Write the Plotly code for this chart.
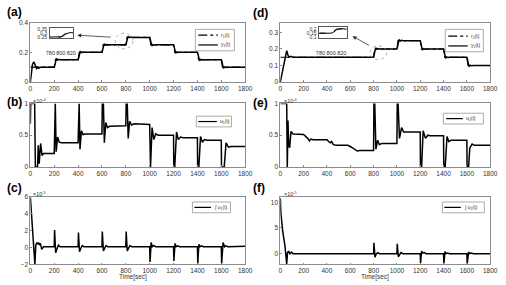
import plotly.graph_objects as go

W, H = 506, 285

# ---------------- data ----------------
time_ticks = [0, 200, 400, 600, 800, 1000, 1200, 1400, 1600, 1800]

r1_t = [0, 200, 210, 400, 410, 600, 610, 800, 810, 1000, 1010, 1200, 1210, 1400, 1410, 1600, 1610, 1800]
r1_v = [0.1, 0.1, 0.15, 0.15, 0.2, 0.2, 0.25, 0.25, 0.3, 0.3, 0.25, 0.25, 0.2, 0.2, 0.15, 0.15, 0.1, 0.1]

y1_t = [0, 8, 18, 30, 42, 52, 62, 72, 84, 100,
        200, 204, 210, 218, 228, 240, 255,
        400, 404, 410, 418, 428, 440, 455,
        600, 604, 610, 618, 628, 640, 655,
        800, 804, 810, 818, 828, 840, 855,
        1000, 1004, 1010, 1018, 1028, 1040, 1055,
        1200, 1204, 1210, 1218, 1228, 1240, 1255,
        1400, 1404, 1410, 1418, 1428, 1440, 1455,
        1600, 1604, 1610, 1618, 1628, 1640, 1655, 1800]
y1_v = [0, 0.07, 0.12, 0.135, 0.11, 0.09, 0.1, 0.092, 0.1, 0.1,
        0.1, 0.11, 0.14, 0.158, 0.148, 0.152, 0.15,
        0.15, 0.16, 0.19, 0.207, 0.198, 0.202, 0.2,
        0.2, 0.21, 0.24, 0.257, 0.248, 0.252, 0.25,
        0.25, 0.26, 0.29, 0.307, 0.298, 0.302, 0.3,
        0.3, 0.29, 0.26, 0.243, 0.252, 0.248, 0.25,
        0.25, 0.24, 0.21, 0.193, 0.202, 0.198, 0.2,
        0.2, 0.19, 0.16, 0.143, 0.152, 0.148, 0.15,
        0.15, 0.14, 0.11, 0.093, 0.102, 0.098, 0.1, 0.1]

r2_t = [0, 800, 810, 1000, 1010, 1200, 1210, 1400, 1410, 1600, 1610, 1800]
r2_v = [0.15, 0.15, 0.2, 0.2, 0.25, 0.25, 0.2, 0.2, 0.15, 0.15, 0.1, 0.1]

y2_t = [0, 15, 30, 45, 55, 65, 75, 90, 110,
        800, 804, 810, 818, 828, 840, 855,
        1000, 1004, 1010, 1018, 1028, 1040, 1055,
        1200, 1204, 1210, 1218, 1228, 1240, 1255,
        1400, 1404, 1410, 1418, 1428, 1440, 1455,
        1600, 1604, 1610, 1618, 1628, 1640, 1655, 1800]
y2_v = [0, 0.05, 0.11, 0.17, 0.19, 0.165, 0.15, 0.155, 0.15,
        0.15, 0.16, 0.19, 0.207, 0.198, 0.202, 0.2,
        0.2, 0.21, 0.24, 0.257, 0.248, 0.252, 0.25,
        0.25, 0.24, 0.21, 0.193, 0.202, 0.198, 0.2,
        0.2, 0.19, 0.16, 0.143, 0.152, 0.148, 0.15,
        0.15, 0.14, 0.11, 0.093, 0.102, 0.098, 0.1, 0.1]

# u1, u2 in units of 1e-4
u1_t = [0, 3, 36, 42, 60, 66, 74, 86, 98, 110, 200,
        203, 209, 216, 228, 242, 260, 400,
        403, 409, 416, 428, 442, 460, 600,
        603, 612, 620, 632, 646, 665, 800,
        803, 812, 820, 832, 848, 868, 1000,
        1002, 1007, 1020, 1035, 1050, 1070, 1200,
        1202, 1210, 1225, 1240, 1258, 1280, 1400,
        1402, 1412, 1426, 1442, 1460, 1480, 1600,
        1602, 1625, 1640, 1660, 1680, 1800]
u1_v = [0.68, 1, 1, 0, 0, 0.34, 0.05, 0.37, 0.18, 0.21, 0.21,
        1, 1, 0.24, 0.47, 0.39, 0.38, 0.38,
        1, 1, 0.28, 0.57, 0.51, 0.52, 0.52,
        1, 1, 0.38, 0.70, 0.62, 0.64, 0.65,
        1, 1, 0.45, 0.72, 0.66, 0.68, 0.67,
        0, 0, 0.62, 0.43, 0.52, 0.5, 0.5,
        0, 0, 0.55, 0.43, 0.47, 0.46, 0.46,
        0, 0, 0.48, 0.39, 0.43, 0.42, 0.42,
        0, 0, 0.38, 0.31, 0.32, 0.32]

u2_t = [0, 55, 60, 66, 72, 80, 92, 110, 200, 215, 235, 250, 262, 280, 400, 415, 428, 440,
        455, 480, 580, 610, 640, 660, 680, 800,
        803, 810, 820, 835, 850, 870, 1000,
        1003, 1010, 1022, 1040, 1058, 1080, 1200,
        1202, 1212, 1225, 1245, 1265, 1285, 1400,
        1402, 1414, 1430, 1445, 1462, 1480, 1600,
        1602, 1615, 1625, 1645, 1665, 1800]
u2_v = [1, 1, 0, 0.73, 0.35, 0.3, 0.56, 0.52, 0.51, 0.49, 0.45, 0.41, 0.44, 0.43, 0.43, 0.40, 0.38, 0.40,
        0.35, 0.34, 0.34, 0.31, 0.27, 0.25, 0.26, 0.26,
        1, 1, 0.28, 0.42, 0.35, 0.37, 0.37,
        1, 1, 0.45, 0.62, 0.55, 0.55, 0.55,
        0, 0, 0.57, 0.45, 0.50, 0.49, 0.49,
        0, 0, 0.48, 0.40, 0.42, 0.42, 0.42,
        0, 0, 0.30, 0.36, 0.34, 0.34]

# integral terms in units of 1e-5
iu1_t = [0, 10, 25, 38, 45, 52, 60, 68, 76, 84, 95, 110, 200,
         203, 212, 222, 235, 250, 400,
         403, 412, 422, 435, 450, 600,
         603, 612, 622, 635, 650, 800,
         803, 812, 822, 835, 850, 1000,
         1003, 1012, 1022, 1035, 1050, 1200,
         1203, 1212, 1222, 1235, 1250, 1400,
         1403, 1412, 1422, 1435, 1450, 1600,
         1603, 1615, 1628, 1640, 1655, 1800]
iu1_v = [6.0, 3.5, 0.5, -2.0, 0.2, 0.6, 0.4, 0.6, 0.3, 0.5, -0.2, 0.1, 0.1,
         2.1, -0.6, -0.1, 0.3, 0.1, 0.1,
         1.8, -0.5, -0.1, 0.25, 0.1, 0.1,
         1.9, -0.4, -0.1, 0.25, 0.1, 0.12,
         1.9, -0.4, -0.1, 0.25, 0.1, 0.1,
         -1.7, 0.6, 0.1, 0.25, 0.1, 0.1,
         -1.6, 0.5, 0.1, 0.2, 0.1, 0.1,
         -1.9, 0.4, 0.1, 0.2, 0.1, 0.1,
         -1.9, 0.6, 0.1, 0.2, 0.1, 0.15]

iu2_t = [0, 5, 20, 40, 55, 62, 72, 82, 95, 110, 800,
         803, 812, 822, 835, 850, 1000,
         1003, 1012, 1022, 1035, 1050, 1200,
         1203, 1212, 1222, 1235, 1250, 1400,
         1403, 1412, 1422, 1435, 1450, 1600,
         1603, 1615, 1628, 1640, 1655, 1800]
iu2_v = [10.8, 8.0, 4.5, 1.5, -2.0, 0.2, 0.5, -0.1, 0.3, 0.0, 0.0,
         2.1, -0.7, -0.1, 0.2, 0.0, 0.0,
         1.9, -0.6, -0.1, 0.2, 0.0, 0.0,
         -1.8, 0.5, 0.1, 0.2, 0.0, 0.0,
         -1.9, 0.4, 0.0, 0.1, 0.0, 0.0,
         -1.9, 0.3, 0.0, 0.1, 0.0, 0.0]

panel_labels = ["(a)", "(d)", "(b)", "(e)", "(c)", "(f)"]
legend_labels = [["r<sub>1</sub>(t)", "y<sub>1</sub>(t)"],
                 ["r<sub>2</sub>(t)", "y<sub>2</sub>(t)"],
                 ["u<sub>1</sub>(t)"], ["u<sub>2</sub>(t)"],
                 ["∫ u<sub>1</sub>(t)"], ["∫ u<sub>2</sub>(t)"]]
inset_x_ticks = [780, 800, 820]
inset_a_y_ticks = [0.25, 0.3, 0.35]
inset_d_y_ticks = [0.1, 0.15, 0.2]

# ---------------- layout helpers ----------------
def px_x(p):
    return p / W

def px_y(p):
    return 1 - p / H

FONT = "Liberation Sans, Arial, sans-serif"
AX_COL = "#8c8c8c"
TXT = "#333333"

xdomL = [px_x(27), px_x(247)]
xdomR = [px_x(283), px_x(498)]
row1 = [px_y(80), px_y(19)]
row2 = [px_y(167), px_y(102)]
row3 = [px_y(267), px_y(198)]

fig = go.Figure()
LW = 1.5

def add(x, y, name, xa, ya, dash="solid", width=LW):
    fig.add_trace(go.Scatter(x=x, y=y, name=name, mode="lines",
                             line=dict(color="black", width=width, dash=dash),
                             xaxis=xa, yaxis=ya, showlegend=False, hoverinfo="skip"))

add(r1_t, r1_v, "r1", "x", "y", dash="dashdot", width=1.2)
add(y1_t, y1_v, "y1", "x", "y")
add(r2_t, r2_v, "r2", "x2", "y2", dash="dashdot", width=1.2)
add(y2_t, y2_v, "y2", "x2", "y2")
add(u1_t, u1_v, "u1", "x3", "y3")
add(u2_t, u2_v, "u2", "x4", "y4")
add(iu1_t, iu1_v, "iu1", "x5", "y5")
add(iu2_t, iu2_v, "iu2", "x6", "y6")
# insets
add(r1_t, r1_v, "r1 inset", "x7", "y7", dash="dash", width=0.9)
add(y1_t, y1_v, "y1 inset", "x7", "y7", width=1.0)
add(r2_t, r2_v, "r2 inset", "x8", "y8", dash="dash", width=0.9)
add(y2_t, y2_v, "y2 inset", "x8", "y8", width=1.0)

def xaxis(dom, anchor):
    return dict(domain=dom, anchor=anchor, range=[0, 1800], tickvals=time_ticks,
                showline=True, mirror=True, linecolor=AX_COL, linewidth=0.8,
                ticks="inside", ticklen=2, tickcolor=AX_COL, showgrid=False,
                zeroline=False, tickangle=0, tickfont=dict(size=6.5, color=TXT, family=FONT))

def yaxis(dom, anchor, rng, tv, tt=None):
    d = dict(domain=dom, anchor=anchor, range=rng, tickvals=tv,
             showline=True, mirror=True, linecolor=AX_COL, linewidth=0.8,
             ticks="inside", ticklen=2, tickcolor=AX_COL, showgrid=False,
             zeroline=False, tickfont=dict(size=6.5, color=TXT, family=FONT))
    if tt is not None:
        d["ticktext"] = tt
    return d

lay = dict(
    width=W, height=H, margin=dict(l=0, r=0, t=0, b=0),
    paper_bgcolor="white", plot_bgcolor="white", showlegend=False,
    font=dict(family=FONT, color=TXT),
    xaxis=xaxis(xdomL, "y"), yaxis=yaxis(row1, "x", [0, 0.4], [0, 0.2, 0.4], ["0", "0.2", "0.4"]),
    xaxis2=xaxis(xdomR, "y2"), yaxis2=yaxis(row1, "x2", [0, 0.36], [0, 0.1, 0.2, 0.3]),
    xaxis3=xaxis(xdomL, "y3"), yaxis3=yaxis(row2, "x3", [0, 1], [0, 0.5, 1]),
    xaxis4=xaxis(xdomR, "y4"), yaxis4=yaxis(row2, "x4", [0, 1], [0, 0.5, 1]),
    xaxis5=xaxis(xdomL, "y5"), yaxis5=yaxis(row3, "x5", [-2, 6], [-2, 0, 2, 4, 6]),
    xaxis6=xaxis(xdomR, "y6"), yaxis6=yaxis(row3, "x6", [-2.1, 11], [0, 5, 10]),
)

def inset_axes(xd, yd, xr, yr, ytv, anchor_x, anchor_y):
    xa = dict(domain=xd, anchor=anchor_y, range=xr, tickvals=inset_x_ticks,
              showline=True, mirror=True, linecolor="#555", linewidth=0.7,
              ticks="", showgrid=False, zeroline=False, ticklabelstandoff=9,
              tickangle=0, tickfont=dict(size=5.5, color=TXT, family=FONT))
    ya = dict(domain=yd, anchor=anchor_x, range=yr, tickvals=ytv,
              showline=True, mirror=True, linecolor="#555", linewidth=0.7,
              ticks="", showgrid=False, zeroline=False, ticklabelstandoff=1,
              tickfont=dict(size=5, color=TXT, family=FONT))
    return xa, ya

lay["xaxis7"], lay["yaxis7"] = inset_axes([px_x(47), px_x(71)], [px_y(35), px_y(25)],
                                          [779, 824], [0.235, 0.36], inset_a_y_ticks, "x7", "y7")
lay["xaxis8"], lay["yaxis8"] = inset_axes([px_x(323), px_x(351)], [px_y(35), px_y(24)],
                                          [778, 829], [0.09, 0.22], inset_d_y_ticks, "x8", "y8")

ann = []
shapes = []

label_pos = [(1, 8), (253, 9), (1, 100), (253, 101), (1, 189), (253, 189)]
for lab, (lx, ly) in zip(panel_labels, label_pos):
    ann.append(dict(text="<b>%s</b>" % lab, x=px_x(lx), y=px_y(ly), xref="paper", yref="paper",
                    xanchor="left", yanchor="middle", showarrow=False,
                    font=dict(size=12, family=FONT, color="black")))
for txt, lx, ly in [("×10<sup>-4</sup>", 28, 99), ("×10<sup>-4</sup>", 285, 99),
                    ("×10<sup>-5</sup>", 28, 195), ("×10<sup>-5</sup>", 285, 195)]:
    ann.append(dict(text=txt, x=px_x(lx), y=px_y(ly), xref="paper", yref="paper",
                    xanchor="left", yanchor="middle", showarrow=False,
                    font=dict(size=5.5, family=FONT, color=TXT)))
for lx in [132, 380]:
    ann.append(dict(text="Time[sec]", x=px_x(lx), y=px_y(280), xref="paper", yref="paper",
                    xanchor="center", yanchor="middle", showarrow=False,
                    font=dict(size=6.5, family=FONT, color=TXT)))
# zoom arrows
for hx, hy, axp, ayp in [(75, 32, 35, 2), (357, 33, 18, 10)]:
    ann.append(dict(text="", x=px_x(hx), y=px_y(hy), xref="paper", yref="paper",
                    ax=axp, ay=ayp, showarrow=True, arrowhead=2, arrowsize=1,
                    arrowwidth=0.8, arrowcolor="#333"))

# dotted zoom circles
for x0, x1, y0, y1 in [(114, 132, 30, 46), (375, 392, 43, 57)]:
    shapes.append(dict(type="circle", xref="paper", yref="paper",
                       x0=px_x(x0), x1=px_x(x1), y0=px_y(y1), y1=px_y(y0),
                       line=dict(color="#999", width=0.8, dash="dot")))

# legend boxes (box: left, right, top, bottom; sample line x0, x1; row y's)
legend_geom = [
    (196, 236, 26, 48, 199, 219, [32, 42]),
    (452, 491, 26, 49, 455, 475, [33, 43]),
    (197, 233, 115, 126, 199, 218, [120.5]),
    (450, 491, 112, 123, 453, 470, [117.5]),
    (193, 232, 203, 214, 195, 212, [208.5]),
    (449, 492, 203, 214, 451, 468, [208.5]),
]
legend_dash = [["dashdot", "solid"], ["dashdot", "solid"], ["solid"], ["solid"], ["solid"], ["solid"]]
for labels, dashes, (bl, br, bt, bb, lx0, lx1, rows) in zip(legend_labels, legend_dash, legend_geom):
    shapes.append(dict(type="rect", xref="paper", yref="paper",
                       x0=px_x(bl), x1=px_x(br), y0=px_y(bb), y1=px_y(bt),
                       line=dict(color="#888", width=0.7), fillcolor="white", layer="above"))
    for lab, dsh, ry in zip(labels, dashes, rows):
        shapes.append(dict(type="line", xref="paper", yref="paper",
                           x0=px_x(lx0), x1=px_x(lx1), y0=px_y(ry), y1=px_y(ry),
                           line=dict(color="black", width=1.2, dash=dsh), layer="above"))
        ann.append(dict(text=lab, x=px_x(lx1 + 1.5), y=px_y(ry), xref="paper", yref="paper",
                        xanchor="left", yanchor="middle", showarrow=False,
                        font=dict(size=5, family=FONT, color=TXT)))

lay["annotations"] = ann
lay["shapes"] = shapes

fig.update_layout(**lay)
fig.write_html("out.html")
